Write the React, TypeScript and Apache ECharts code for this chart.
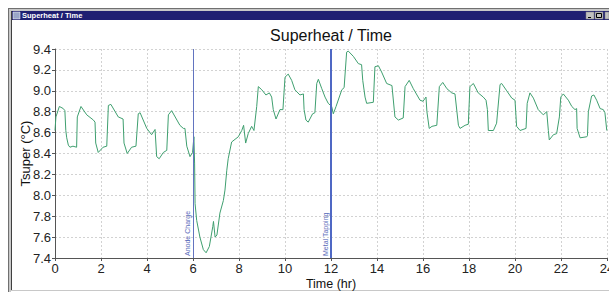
import React, { useEffect, useRef } from "react";
import * as echarts from "echarts";

const timeHours = [
  0.0, 0.04, 0.19, 0.36, 0.43, 0.47, 0.51, 0.58, 0.65, 0.78, 0.94, 0.97, 1.13, 1.38, 1.67, 1.74, 1.77, 1.88, 2.09, 2.25,
  2.32, 2.43, 2.75, 2.96, 3.0, 3.14, 3.33, 3.52, 3.62, 3.7, 3.99, 4.2, 4.35, 4.42, 4.53, 4.71, 4.86, 4.93, 5.07, 5.43,
  5.58, 5.65, 5.73, 5.87, 5.98, 6.04, 6.07, 6.09, 6.16, 6.3, 6.45, 6.57, 6.71, 6.86, 6.89, 6.96, 7.04, 7.17, 7.32, 7.39,
  7.47, 7.53, 7.68, 7.97, 8.12, 8.2, 8.29, 8.4, 8.55, 8.65, 8.77, 8.84, 8.99, 9.17, 9.32, 9.42, 9.49, 9.61, 9.78, 9.91,
  10.0, 10.14, 10.29, 10.43, 10.65, 10.8, 10.83, 10.91, 11.01, 11.2, 11.3, 11.38, 11.45, 11.6, 11.74, 11.88, 12.03, 12.1, 12.22, 12.47,
  12.57, 12.68, 12.75, 12.97, 13.19, 13.33, 13.38, 13.48, 13.55, 13.84, 13.91, 14.06, 14.2, 14.42, 14.65, 14.78, 14.93, 15.14, 15.22, 15.4,
  15.58, 15.87, 16.0, 16.13, 16.17, 16.27, 16.39, 16.6, 16.71, 16.86, 17.04, 17.25, 17.39, 17.54, 17.61, 17.83, 17.97, 18.04, 18.19, 18.4,
  18.62, 18.74, 18.8, 18.84, 19.06, 19.2, 19.35, 19.42, 19.64, 19.86, 20.0, 20.07, 20.22, 20.48, 20.53, 20.65, 20.8, 21.01, 21.23, 21.38,
  21.45, 21.49, 21.67, 21.81, 21.93, 21.99, 22.1, 22.32, 22.47, 22.61, 22.68, 22.7, 22.83, 23.12, 23.15, 23.19, 23.33, 23.43, 23.55, 23.7,
  23.84, 23.91, 23.99,
];

const superheat = [
  8.62, 8.75, 8.85, 8.83, 8.81, 8.62, 8.55, 8.48, 8.46, 8.47, 8.46, 8.75, 8.85, 8.77, 8.72, 8.7, 8.5, 8.41, 8.46, 8.47,
  8.86, 8.87, 8.75, 8.73, 8.5, 8.4, 8.46, 8.47, 8.78, 8.79, 8.64, 8.58, 8.63, 8.37, 8.35, 8.41, 8.43, 8.77, 8.81, 8.67,
  8.64, 8.64, 8.47, 8.37, 8.41, 8.56, 8.3, 7.92, 7.76, 7.6, 7.48, 7.45, 7.51, 7.7, 7.75, 7.6, 7.62, 7.83, 7.95, 8.05,
  8.24, 8.35, 8.51, 8.56, 8.62, 8.67, 8.5, 8.59, 8.66, 8.62, 8.85, 9.04, 9.01, 8.96, 8.98, 8.94, 8.82, 8.73, 8.82, 8.82,
  9.13, 9.16, 9.1, 9.01, 8.96, 8.97, 8.82, 8.72, 8.7, 8.78, 8.79, 9.07, 9.11, 9.02, 8.94, 8.88, 8.85, 8.78, 8.85, 9.01,
  9.03, 9.37, 9.38, 9.33, 9.26, 9.25, 9.1, 8.94, 8.88, 8.89, 9.23, 9.24, 9.18, 9.07, 9.05, 8.75, 8.72, 8.74, 9.04, 9.1,
  9.02, 8.91, 8.9, 8.94, 8.8, 8.64, 8.66, 8.67, 9.04, 9.08, 9.02, 8.98, 8.97, 8.67, 8.64, 8.67, 8.68, 9.04, 9.07, 8.98,
  8.94, 8.91, 8.82, 8.62, 8.62, 8.69, 9.06, 9.07, 9.0, 8.93, 8.91, 8.66, 8.62, 8.64, 8.88, 8.98, 8.93, 8.82, 8.77, 8.8,
  8.62, 8.53, 8.58, 8.59, 8.75, 8.94, 8.97, 8.91, 8.85, 8.82, 8.83, 8.64, 8.55, 8.56, 8.57, 8.8, 8.95, 8.96, 8.91, 8.83,
  8.82, 8.79, 8.62,
];

const markerHours = [6, 12];
const markerLabels = ["Anode Charge", "Metal Tapping"];
const markerColors = ["#6274c0", "#4f68c4"];
const markerWidths = [1, 2];

const chartTitle = "Superheat / Time";
const windowTitle = "Superheat / Time";
const xName = "Time (hr)";
const yName = "Tsuper (°C)";

export default function App() {
  const ref = useRef<HTMLDivElement>(null);

  useEffect(() => {
    if (!ref.current) return;
    const chart = echarts.init(ref.current, null, { renderer: "svg" });
    const data = timeHours.map((h, i) => [h, superheat[i]]);
    const font = "'Liberation Sans', Arial, sans-serif";

    chart.setOption({
      animation: false,
      backgroundColor: "#ffffff",
      textStyle: { fontFamily: font },
      title: {
        text: chartTitle,
        left: 331,
        textAlign: "center",
        top: 27,
        padding: 0,
        textStyle: { fontFamily: font, fontSize: 16, fontWeight: "normal", color: "#111" },
      },
      grid: { left: 55, right: 2, top: 49, bottom: 34, containLabel: false, outerBoundsMode: "none" },
      xAxis: {
        type: "value",
        min: 0,
        max: 24,
        interval: 2,
        name: xName,
        nameLocation: "middle",
        nameGap: 19,
        nameMoveOverlap: false,
        nameTextStyle: { fontFamily: font, fontSize: 12.5, color: "#111" },
        axisLine: { lineStyle: { color: "#555", width: 1 } },
        axisTick: { show: true, length: 3, lineStyle: { color: "#555" } },
        axisLabel: { fontFamily: font, fontSize: 13, color: "#222", margin: 4 },
        splitLine: { show: true, lineStyle: { color: "#d2d2d2", type: [2, 2], width: 1 } },
      },
      yAxis: {
        type: "value",
        min: 7.4,
        max: 9.4,
        interval: 0.2,
        name: yName,
        nameLocation: "middle",
        nameGap: 23,
        nameMoveOverlap: false,
        nameRotate: 90,
        nameTextStyle: { fontFamily: font, fontSize: 13, color: "#111" },
        axisLine: { show: true, lineStyle: { color: "#555", width: 1 } },
        axisTick: { show: true, length: 3, lineStyle: { color: "#555" } },
        axisLabel: {
          fontFamily: font,
          fontSize: 13,
          color: "#222",
          margin: 4,
          formatter: (v: number) => v.toFixed(1),
        },
        splitLine: { show: true, lineStyle: { color: "#d2d2d2", type: [2, 2], width: 1 } },
      },
      series: [
        {
          type: "line",
          data,
          showSymbol: false,
          symbol: "none",
          lineStyle: { color: "#3f9f6f", width: 1 },
          itemStyle: { color: "#3f9f6f" },
          z: 3,
          markLine: {
            silent: true,
            symbol: ["none", "none"],
            animation: false,
            data: markerHours.map((h, i) => ({
              xAxis: h,
              lineStyle: { color: markerColors[i], width: markerWidths[i], type: "solid" },
              label: {
                show: true,
                formatter: markerLabels[i],
                position: "insideStartTop",
                distance: 2,
                fontFamily: font,
                fontSize: 7,
                color: "#5a6cba",
              },
            })),
          },
        },
      ],
      graphic: [
        { type: "rect", shape: { x: 8, y: 8, width: 601, height: 3 }, style: { fill: "#c8c8c8" }, silent: true },
        { type: "rect", shape: { x: 8, y: 8, width: 3, height: 284 }, style: { fill: "#c8c8c8" }, silent: true },
        { type: "line", shape: { x1: 8, y1: 8.5, x2: 609, y2: 8.5 }, style: { stroke: "#707070", lineWidth: 1 }, silent: true },
        { type: "line", shape: { x1: 8.5, y1: 8, x2: 8.5, y2: 292 }, style: { stroke: "#707070", lineWidth: 1 }, silent: true },
        { type: "line", shape: { x1: 11.5, y1: 11, x2: 11.5, y2: 291 }, style: { stroke: "#404040", lineWidth: 1 }, silent: true },
        { type: "line", shape: { x1: 11, y1: 290.5, x2: 609, y2: 290.5 }, style: { stroke: "#c8c8c8", lineWidth: 1 }, silent: true },
        { type: "rect", shape: { x: 12, y: 11, width: 597, height: 9 }, style: { fill: "#1f1f72" }, silent: true },
        { type: "rect", shape: { x: 13, y: 12, width: 7, height: 7 }, style: { fill: "#9aa6c8", stroke: "#ffffff", lineWidth: 0.5 }, silent: true },
        {
          type: "text",
          x: 22,
          y: 15.5,
          style: {
            text: windowTitle,
            fill: "#ffffff",
            font: "bold 7.5px 'Liberation Sans', Arial, sans-serif",
            textVerticalAlign: "middle",
          },
          silent: true,
        },
        { type: "rect", shape: { x: 586, y: 12, width: 8, height: 7 }, style: { fill: "#c0c0c0", stroke: "#808080", lineWidth: 0.5 }, silent: true },
        { type: "line", shape: { x1: 588, y1: 17.5, x2: 591, y2: 17.5 }, style: { stroke: "#000", lineWidth: 1 }, silent: true },
        { type: "rect", shape: { x: 595, y: 12, width: 8, height: 7 }, style: { fill: "#c0c0c0", stroke: "#808080", lineWidth: 0.5 }, silent: true },
        { type: "rect", shape: { x: 596.5, y: 13.5, width: 5, height: 4 }, style: { fill: "none", stroke: "#000", lineWidth: 1 }, silent: true },
        { type: "rect", shape: { x: 605, y: 12, width: 4, height: 7 }, style: { fill: "#c0c0c0", stroke: "#808080", lineWidth: 0.5 }, silent: true },
      ],
    });

    return () => chart.dispose();
  }, []);

  return (
    <div
      ref={ref}
      style={{ position: "fixed", left: 0, top: 0, width: 609, height: 292, background: "#fff" }}
    />
  );
}
